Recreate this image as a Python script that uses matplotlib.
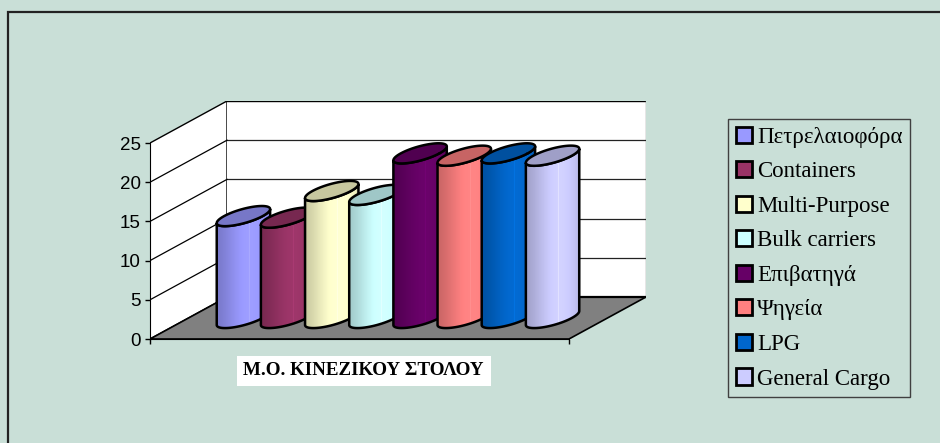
import matplotlib.pyplot as plt
import numpy as np
from matplotlib.patches import Polygon, Rectangle, Patch
from matplotlib.colors import to_rgb

categories = ['Πετρελαιοφόρα', 'Containers', 'Multi-Purpose', 'Bulk carriers',
              'Επιβατηγά', 'Ψηγεία', 'LPG', 'General Cargo']
values = [13.0, 12.8, 16.2, 15.7, 21.0, 20.7, 21.0, 20.7]
colors = ['#9999FF', '#993366', '#FFFFCC', '#CCFFFF',
          '#660066', '#FF8080', '#0066CC', '#CCCCFF']
y_ticks = [0, 5, 10, 15, 20, 25]
group_label = 'Μ.Ο. ΚΙΝΕΖΙΚΟΥ ΣΤΟΛΟΥ'

BG = '#C9DFD7'
YMAX = 25
# oblique depth: full depth shifts right by DX (x units) and up by DY (value units)
DX = 77 / 419
DY = 42 / 7.84
SLOT = 0.1054      # spacing between series
RX = 0.046         # cylinder radius along x
ZC, RZ = 0.5, 0.24 # cylinder depth centre / radius (fraction of depth)


def ellipse(cx, y, t):
    z = ZC + RZ * np.sin(t)
    return cx + RX * np.cos(t) + DX * z, y + DY * z


def draw_cylinder(ax, cx, v, color, z):
    base = np.array(to_rgb(color))
    t0 = np.arctan2(DX * RZ, RX)
    ts = np.linspace(t0 + np.pi, t0 + 2 * np.pi, 80)
    bx, by = ellipse(cx, 0, ts)
    tx, ty = ellipse(cx, v, ts[::-1])
    body = Polygon(np.column_stack([np.r_[bx, tx], np.r_[by, ty]]),
                   closed=True, fc='none', ec='black', lw=1.8, zorder=z + 0.1)

    # horizontal shading across the body with a few faint light stripes
    n = 120
    u = np.linspace(0, 1, n)
    f = 0.80 + 0.22 * np.sin(np.pi * np.clip(u / 1.25, 0, 1)) ** 1.5
    f[-8:] *= np.linspace(1, 0.88, 8)
    for s in [0.48, 0.55, 0.6, 0.66, 0.72, 0.78]:
        f[int(s * n)] += 0.07
    grad = np.clip(base[None, :] * f[:, None] + 0.04 * (f[:, None] - 0.8), 0, 1)
    x0, x1 = bx.min(), bx.max()
    im = ax.imshow(grad[None, :, :], extent=(x0, x1, 0, v + DY), aspect='auto',
                   interpolation='nearest', zorder=z)
    im.set_clip_path(Polygon(body.get_xy(), closed=True, transform=ax.transData))
    ax.add_patch(body)

    ex, ey = ellipse(cx, v, np.linspace(0, 2 * np.pi, 120))
    ax.add_patch(Polygon(np.column_stack([ex, ey]), closed=True,
                         fc=base * 0.78, ec='black', lw=1.8, zorder=z + 0.2))


fig = plt.figure(figsize=(9.4, 4.43), dpi=100, facecolor=BG)
ax = fig.add_axes([150 / 940, 104 / 443, (419 + 77) / 940, (196 + 42) / 443])
ax.set_facecolor('none')

# walls and floor
ax.add_patch(Polygon([(0, 0), (DX, DY), (DX, YMAX + DY), (0, YMAX)],
                     fc='white', ec='black', lw=1, zorder=0))
ax.add_patch(Polygon([(DX, DY), (1 + DX, DY), (1 + DX, YMAX + DY), (DX, YMAX + DY)],
                     fc='white', ec='none', zorder=0))
ax.plot([DX, 1 + DX], [YMAX + DY] * 2, color='black', lw=1, zorder=1)
ax.plot([1 + DX, 1 + DX], [DY, YMAX + DY], color='#808080', lw=1, zorder=1)
for v in y_ticks[1:-1]:
    ax.plot([DX, 1 + DX], [v + DY] * 2, color='#222222', lw=0.9, zorder=1)
    ax.plot([0, DX], [v, v + DY], color='black', lw=0.9, zorder=1)
ax.add_patch(Polygon([(0, 0), (1, 0), (1 + DX, DY), (DX, DY)],
                     fc='#808080', ec='black', lw=1.2, zorder=1.5))
ax.plot([DX, 1 + DX], [DY, DY], color='black', lw=1.6, zorder=1.6)

for i, (v, c) in enumerate(zip(values, colors)):
    cx = 0.5 + (i - 3.5) * SLOT
    draw_cylinder(ax, cx, v, c, 3 + i)

ax.set_xlim(0, 1 + DX)
ax.set_ylim(0, YMAX + DY)
for side in ['top', 'right']:
    ax.spines[side].set_visible(False)
ax.spines['left'].set_bounds(0, YMAX)
ax.spines['bottom'].set_bounds(0, 1)
ax.spines['left'].set_zorder(2)
ax.spines['bottom'].set_zorder(2)
ax.set_yticks(y_ticks)
ax.set_xticks([0, 1])
ax.set_xticklabels([])
ax.tick_params(axis='both', length=3.5, width=1, pad=3, direction='out')
for lab in ax.get_yticklabels():
    lab.set_fontfamily('Liberation Sans')
    lab.set_fontsize(13.5)

ax.annotate(group_label, xy=(0.5, 0), xytext=(3, -23), textcoords='offset points',
            ha='center', va='center', fontsize=13.7, fontweight='bold',
            family='Liberation Serif',
            bbox=dict(boxstyle='square,pad=0.35', fc='white', ec='none'))

handles = [Patch(fc=c, ec='black', lw=2) for c in colors]
leg = fig.legend(handles, categories, loc='upper left',
                 bbox_to_anchor=(728 / 940, 1 - 119 / 443), borderaxespad=0,
                 prop={'family': 'Liberation Serif', 'size': 16.5},
                 handlelength=0.7, handleheight=0.7, handletextpad=0.25,
                 labelspacing=0.59, borderpad=0.33, fancybox=False,
                 facecolor=BG, edgecolor='#404040', framealpha=1)
leg.get_frame().set_linewidth(1)

# chart border
fig.add_artist(Rectangle((8 / 940, -0.1), 1.0, 1.1 - 12 / 443, transform=fig.transFigure,
                         fill=False, ec='#222222', lw=1.6))

fig.savefig('out.png', dpi=100, facecolor=BG)
